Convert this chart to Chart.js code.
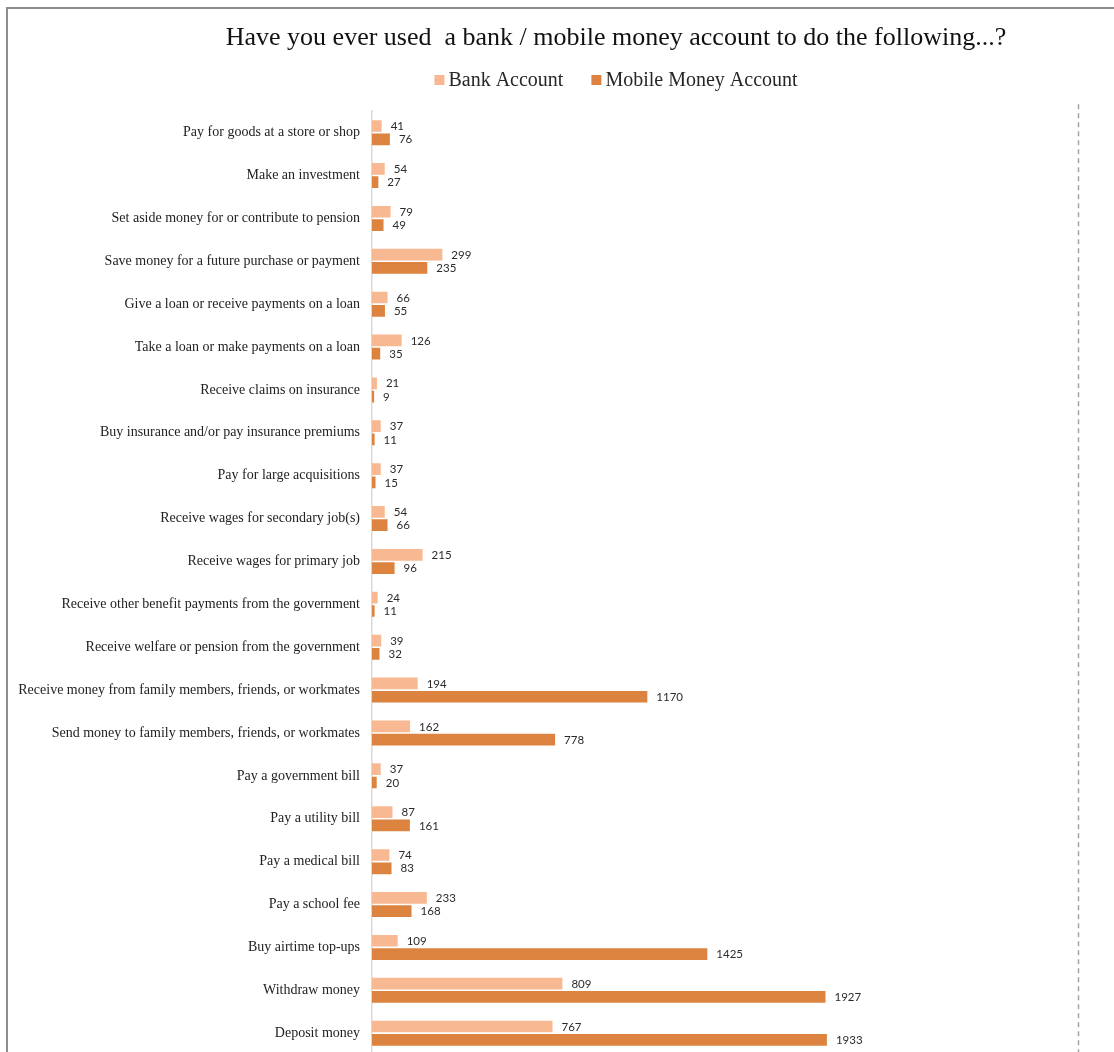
<!DOCTYPE html>
<html>
<head>
<meta charset="utf-8">
<script src="https://cdn.jsdelivr.net/npm/chart.js@4.4.1/dist/chart.umd.min.js"></script>
<style>
  html, body { margin: 0; padding: 0; background: #ffffff; overflow: hidden; width: 1114px; height: 1052px; }
  #frame { position: absolute; left: 6px; top: 7px; width: 1300px; height: 1100px;
           border-left: 2px solid #8d8d88; border-top: 2px solid #8d8d88; }
  #c { position: absolute; left: 0; top: 0; }
</style>
</head>
<body>
<div id="frame"><canvas id="c" width="1216" height="1066"></canvas></div>
<script>
const categories = [
  "Pay for goods at a store or shop",
  "Make an investment",
  "Set aside money for or contribute to pension",
  "Save money for a future purchase or payment",
  "Give a loan or receive payments on a loan",
  "Take a loan or make payments on a loan",
  "Receive claims on insurance",
  "Buy insurance and/or pay insurance premiums",
  "Pay for large acquisitions",
  "Receive wages for secondary job(s)",
  "Receive wages for primary job",
  "Receive other benefit payments from the government",
  "Receive welfare or pension from the government",
  "Receive money from family members, friends, or workmates",
  "Send money to family members, friends, or workmates",
  "Pay a government bill",
  "Pay a utility bill",
  "Pay a medical bill",
  "Pay a school fee",
  "Buy airtime top-ups",
  "Withdraw money",
  "Deposit money"
];
const bankAccount = [41, 54, 79, 299, 66, 126, 21, 37, 37, 54, 215, 24, 39, 194, 162, 37, 87, 74, 233, 109, 809, 767];
const mobileMoneyAccount = [76, 27, 49, 235, 55, 35, 9, 11, 15, 66, 96, 11, 32, 1170, 778, 20, 161, 83, 168, 1425, 1927, 1933];
const seriesNames = ["Bank Account", "Mobile Money Account"];
const seriesColors = ["#F8B891", "#DC843F"];
const xMax = 3000;
const chartTitle = "Have you ever used  a bank / mobile money account to do the following...?";

const SERIF = '"Liberation Serif", "Times New Roman", serif';

const valueLabels = {
  id: 'valueLabels',
  afterDatasetsDraw(chart) {
    const ctx = chart.ctx;
    ctx.save();
    ctx.font = '11.5px Lato, "Open Sans", sans-serif';
    ctx.fillStyle = '#2b2b2b';
    ctx.textAlign = 'left';
    ctx.textBaseline = 'middle';
    chart.data.datasets.forEach((ds, di) => {
      const meta = chart.getDatasetMeta(di);
      meta.data.forEach((el, i) => {
        ctx.fillText(String(ds.data[i]), el.x + 9, el.y + 0.5);
      });
    });
    ctx.restore();
  }
};

const topLegend = {
  id: 'topLegend',
  afterDraw(chart) {
    const ctx = chart.ctx;
    ctx.save();
    ctx.font = '20px ' + SERIF;
    ctx.textBaseline = 'middle';
    ctx.textAlign = 'left';
    const box = 10, gapBoxText = 4, gapItems = 28, yC = 71;
    const items = chart.data.datasets.map(ds => ({ text: ds.label, color: ds.backgroundColor }));
    const widths = items.map(it => box + gapBoxText + ctx.measureText(it.text).width);
    const total = widths.reduce((a, b) => a + b, 0) + gapItems * (items.length - 1);
    let x = chart.width / 2 - total / 2;
    items.forEach((it, i) => {
      ctx.fillStyle = it.color;
      ctx.fillRect(x, yC - box / 2, box, box);
      ctx.fillStyle = '#262626';
      ctx.fillText(it.text, x + box + gapBoxText, yC + 1);
      x += widths[i] + gapItems;
    });
    ctx.restore();
  }
};

const rightDashed = {
  id: 'rightDashed',
  afterDraw(chart) {
    const ctx = chart.ctx;
    const x = Math.round(chart.scales.x.getPixelForValue(xMax)) + 0.5;
    ctx.save();
    ctx.strokeStyle = '#a3a3a3';
    ctx.lineWidth = 1.5;
    ctx.setLineDash([5, 4]);
    ctx.beginPath();
    ctx.moveTo(x, chart.chartArea.top - 7);
    ctx.lineTo(x, chart.chartArea.bottom);
    ctx.stroke();
    ctx.restore();
  }
};

new Chart(document.getElementById('c'), {
  type: 'bar',
  data: {
    labels: categories,
    datasets: [
      { label: seriesNames[0], data: bankAccount, backgroundColor: seriesColors[0], borderWidth: 0,
        categoryPercentage: 0.62, barPercentage: 0.88 },
      { label: seriesNames[1], data: mobileMoneyAccount, backgroundColor: seriesColors[1], borderWidth: 0,
        categoryPercentage: 0.62, barPercentage: 0.88 }
    ]
  },
  options: {
    indexAxis: 'y',
    responsive: false,
    animation: false,
    devicePixelRatio: 1,
    layout: { padding: { left: 0, right: 0, top: 0, bottom: 0 } },
    plugins: {
      title: {
        display: true,
        text: chartTitle,
        color: '#111111',
        font: { family: SERIF, size: 26, weight: 'normal' },
        padding: { top: 14, bottom: 46 }
      },
      legend: { display: false },
      tooltip: { enabled: false }
    },
    scales: {
      x: {
        position: 'top',
        min: 0,
        max: xMax,
        ticks: { display: false },
        grid: { display: false },
        border: { display: false },
        afterFit(scale) { scale.height = 11; }
      },
      y: {
        ticks: {
          color: '#222222',
          font: { family: SERIF, size: 14 },
          padding: 12,
          autoSkip: false
        },
        grid: { display: false, drawTicks: false },
        border: { display: true, color: '#d9d9d9', width: 1.5 },
        afterFit(scale) { scale.width = 364; }
      },
      yRight: {
        type: 'category',
        position: 'right',
        display: true,
        ticks: { display: false },
        grid: { display: false, drawTicks: false },
        border: { display: false },
        afterFit(scale) { scale.width = 146; }
      }
    }
  },
  plugins: [valueLabels, topLegend, rightDashed]
});
</script>
</body>
</html>
